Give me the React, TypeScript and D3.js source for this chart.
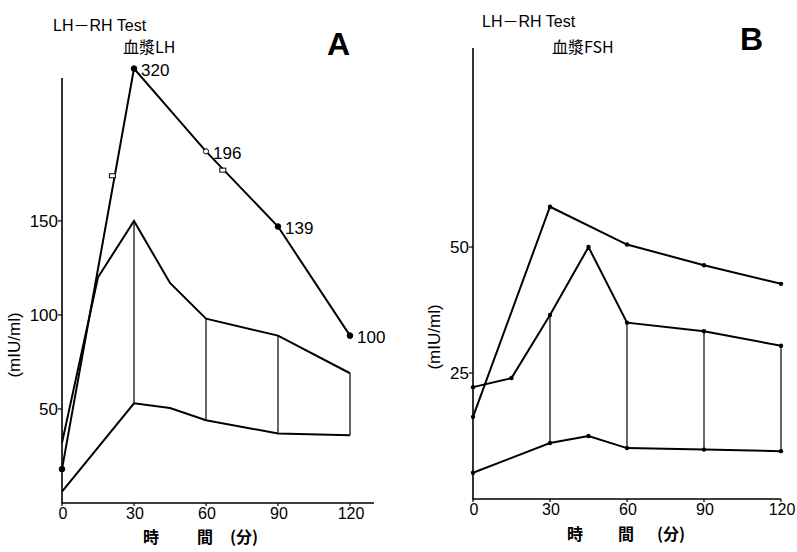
import React from "react";
import * as d3 from "d3";

// time axis (min)
const xTicks = [0, 30, 60, 90, 120];

// panel A: plasma LH, normal range (upper / lower edge)
const lhUpperT = [0, 15, 30, 45, 60, 90, 120];
const lhUpperV = [32, 120, 150, 117, 98, 89, 69];
const lhLowerT = [0, 30, 45, 60, 90, 120];
const lhLowerV = [6, 53, 50.5, 44, 37, 36];
// patient curve (drawn position on the axis, printed value)
const lhPatT = [0, 30, 60, 90, 120];
const lhPatV = [18, 231, 187, 147, 89];
const lhPatLabel = ["", "320", "196", "139", "100"];
const lhPatOpen = [false, false, true, false, false];
const lhExtraT = [21, 67];
const lhExtraV = [174, 177];
const lhYTicks = [50, 100, 150];

// panel B: plasma FSH
const fshUpperT = [0, 15, 30, 45, 60, 90, 120];
const fshUpperV = [22.2, 24, 36.5, 50, 35, 33.3, 30.4];
const fshLowerT = [0, 30, 45, 60, 90, 120];
const fshLowerV = [5.2, 11.1, 12.5, 10.1, 9.8, 9.5];
const fshPatT = [0, 30, 60, 90, 120];
const fshPatV = [16.3, 58, 50.5, 46.4, 42.7];
const fshYTicks = [25, 50];

const connT = [30, 60, 90, 120];

const NUM = "'Liberation Sans Narrow', 'Liberation Sans', Arial, sans-serif";
const JP = "'Noto Sans CJK JP', 'Noto Sans CJK SC', sans-serif";
const SANS = "'Liberation Sans', Arial, sans-serif";

type PanelProps = {
  x: d3.ScaleLinear<number, number>;
  y: d3.ScaleLinear<number, number>;
  yTicks: number[];
  upperT: number[];
  upperV: number[];
  lowerT: number[];
  lowerV: number[];
  patT: number[];
  patV: number[];
  dots: boolean;
  xLabelY: number;
  unitX: number;
  unitY: number;
  timeY: number;
  timeX: number[];
};

const Panel = (p: PanelProps) => {
  const line = d3
    .line<[number, number]>()
    .x(d => p.x(d[0]))
    .y(d => p.y(d[1]));
  const zip = (t: number[], v: number[]) => t.map((tt, i) => [tt, v[i]] as [number, number]);
  const up = zip(p.upperT, p.upperV);
  const lo = zip(p.lowerT, p.lowerV);
  const pat = zip(p.patT, p.patV);
  const [x0, x1] = p.x.range();
  const [y0, y1] = p.y.range();

  return (
    <g>
      {/* axes */}
      <path d={`M${x0},${y1}V${y0}H${x1}`} fill="none" stroke="#000" strokeWidth={1.6} />
      {p.yTicks.map(t => (
        <g key={t}>
          <line x1={x0 - 4} x2={x0} y1={p.y(t)} y2={p.y(t)} stroke="#000" strokeWidth={1.2} />
          <text x={x0 - 4} y={p.y(t)} dy="0.36em" textAnchor="end" fontFamily={NUM} fontSize={17}>
            {t}
          </text>
        </g>
      ))}
      {xTicks.map(t => (
        <g key={t}>
          <line x1={p.x(t)} x2={p.x(t)} y1={y0} y2={y0 + 3} stroke="#000" strokeWidth={1.2} />
          <text x={p.x(t) + 1} y={p.xLabelY} textAnchor="middle" fontFamily={NUM} fontSize={16}>
            {t}
          </text>
        </g>
      ))}
      <text
        transform={`translate(${p.unitX},${p.unitY}) rotate(-90)`}
        textAnchor="middle"
        dy="0.35em"
        fontFamily={NUM}
        fontSize={17}
      >
        (mIU/ml)
      </text>
      {["時", "間", "(分)"].map((s, i) => (
        <text key={s} x={p.timeX[i]} y={p.timeY} fontFamily={JP} fontSize={16} fontWeight={700}>
          {s}
        </text>
      ))}

      {/* range band */}
      {connT.map(t => (
        <line
          key={t}
          x1={p.x(t)}
          x2={p.x(t)}
          y1={p.y(p.upperV[p.upperT.indexOf(t)])}
          y2={p.y(p.lowerV[p.lowerT.indexOf(t)])}
          stroke="#000"
          strokeWidth={1.2}
        />
      ))}
      <path d={line(up) ?? ""} fill="none" stroke="#000" strokeWidth={2} />
      <path d={line(lo) ?? ""} fill="none" stroke="#000" strokeWidth={2} />
      <path d={line(pat) ?? ""} fill="none" stroke="#000" strokeWidth={2} />
      {p.dots &&
        [...up, ...lo, ...pat].map((d, i) => (
          <circle key={i} cx={p.x(d[0])} cy={p.y(d[1])} r={2.2} fill="#000" />
        ))}
    </g>
  );
};

const Title = ({ x, y }: { x: number; y: number }) => (
  <text x={x} y={y} fontFamily={SANS} fontSize={16}>
    LH
    <tspan fontFamily={JP}>－</tspan>
    RH Test
  </text>
);

const App = () => {
  const xA = d3.scaleLinear().domain([0, 130]).range([62, 374]);
  const yA = d3.scaleLinear().domain([0, 226]).range([503, 78]);
  const xB = d3.scaleLinear().domain([0, 120]).range([473, 781]);
  const yB = d3.scaleLinear().domain([0, 89.5]).range([499, 48]);

  return (
    <svg
      width={797}
      height={552}
      style={{ position: "absolute", left: 0, top: 0, background: "#fff" }}
    >
      <rect width={797} height={552} fill="#fff" />

      {/* ---------- A ---------- */}
      <Title x={53} y={31} />
      <text x={123} y={53} fontFamily={JP} fontSize={16}>
        血漿LH
      </text>
      <text x={327} y={55} fontFamily={SANS} fontSize={32} fontWeight={700}>
        A
      </text>
      <Panel
        x={xA}
        y={yA}
        yTicks={lhYTicks}
        upperT={lhUpperT}
        upperV={lhUpperV}
        lowerT={lhLowerT}
        lowerV={lhLowerV}
        patT={lhPatT}
        patV={lhPatV}
        dots={false}
        xLabelY={519}
        unitX={14}
        unitY={345}
        timeY={543}
        timeX={[143, 197, 230]}
      />
      {lhPatT.map((t, i) => (
        <g key={t}>
          <circle
            cx={xA(t)}
            cy={yA(lhPatV[i])}
            r={lhPatOpen[i] ? 2.6 : 2.8}
            fill={lhPatOpen[i] ? "#fff" : "#000"}
            stroke="#000"
            strokeWidth={1}
          />
          {lhPatLabel[i] && (
            <text x={xA(t) + 7} y={yA(lhPatV[i])} dy="0.45em" fontFamily={NUM} fontSize={17}>
              {lhPatLabel[i]}
            </text>
          )}
        </g>
      ))}
      {lhExtraT.map((t, i) => (
        <rect
          key={t}
          x={xA(t) - 3}
          y={yA(lhExtraV[i]) - 2}
          width={6}
          height={4}
          fill="#fff"
          stroke="#000"
          strokeWidth={1}
        />
      ))}

      {/* ---------- B ---------- */}
      <Title x={482} y={27} />
      <text x={552} y={53} fontFamily={JP} fontSize={16}>
        血漿FSH
      </text>
      <text x={740} y={50} fontFamily={SANS} fontSize={32} fontWeight={700}>
        B
      </text>
      <Panel
        x={xB}
        y={yB}
        yTicks={fshYTicks}
        upperT={fshUpperT}
        upperV={fshUpperV}
        lowerT={fshLowerT}
        lowerV={fshLowerV}
        patT={fshPatT}
        patV={fshPatV}
        dots={true}
        xLabelY={515}
        unitX={434}
        unitY={337}
        timeY={540}
        timeX={[567, 618, 657]}
      />
    </svg>
  );
};

export default App;
